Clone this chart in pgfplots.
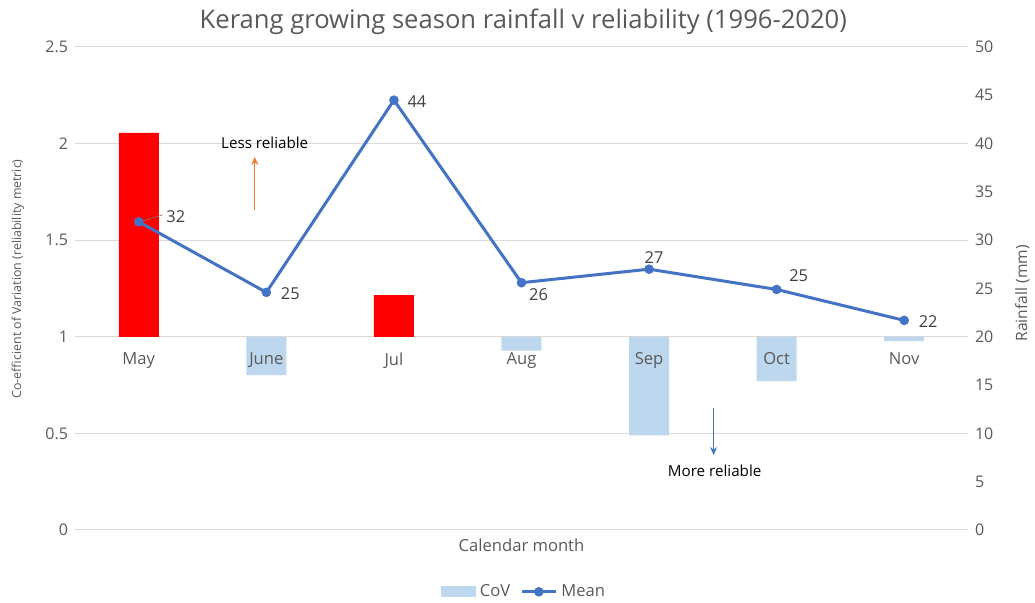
\documentclass[border=0pt]{standalone}
\usepackage{pgfplots}
\pgfplotsset{compat=1.18}
\usetikzlibrary{arrows.meta}
\usepackage{fontspec}
\setmainfont{Open Sans}
\definecolor{covblue}{RGB}{189,215,238}
\definecolor{meanblue}{RGB}{68,114,196}
\definecolor{txtgray}{RGB}{89,89,89}
\definecolor{lblgray}{RGB}{64,64,64}
\definecolor{gridgray}{RGB}{217,217,217}
\definecolor{arrorange}{RGB}{237,125,49}
\pgfplotsset{base/.style={scale only axis, width=446.5pt, height=241.5pt, xmin=-0.5, xmax=6.5,
  axis line style={draw=none}, tick style={draw=none},
  ticklabel style={font=\fontsize{8}{9}\selectfont, text=txtgray},
  /pgf/number format/assume math mode=true}}
\begin{document}
\begin{tikzpicture}
\useasboundingbox (-37.5pt,-36.5pt) rectangle (480pt,265pt);
\begin{axis}[
  base, clip=false,
  ymin=-1, ymax=1.5,
  axis x line*=bottom, axis y line*=left,
  xtick=\empty,
  ytick={-1,-0.5,0,0.5,1,1.5}, yticklabels={0,0.5,1,1.5,2,2.5},
  ymajorgrids, grid style={gridgray, line width=0.5pt},
]
\addplot[ybar, bar width=20pt, bar shift=0pt, fill=red, draw=none, y filter/.expression={y-1}]
  coordinates {(0,2.055) (2,1.216)};
\addplot[ybar, bar width=20pt, bar shift=0pt, fill=covblue, draw=none, y filter/.expression={y-1}]
  coordinates {(1,0.802) (3,0.928) (4,0.490) (5,0.770) (6,0.978)};
\draw[arrorange, line width=0.6pt, -{Stealth[length=4pt,width=3.5pt]}] (axis cs:0.909,0.656) -- (axis cs:0.909,0.931);
\node[font=\fontsize{7.6}{9}\selectfont, text=black] at (axis cs:0.987,1.003) {Less reliable};
\draw[meanblue, line width=0.6pt, -{Stealth[length=4pt,width=3.5pt]}] (axis cs:4.506,-0.369) -- (axis cs:4.506,-0.612);
\node[font=\fontsize{7.6}{9}\selectfont, text=black] at (axis cs:4.514,-0.695) {More reliable};
\node[font=\fontsize{8.3}{9}\selectfont, text=txtgray] at (axis description cs:0.50,-0.031) {Calendar month};
\node[font=\fontsize{12.8}{14}\selectfont, text=txtgray] at (axis description cs:0.502,1.052) {Kerang growing season rainfall v reliability (1996-2020)};
\node[rotate=90, font=\fontsize{6.2}{7}\selectfont, text=txtgray] at (axis description cs:-0.064,0.52) {Co-efficient of Variation (reliability metric)};
\end{axis}
\begin{axis}[
  base,
  ymin=-1, ymax=1.5,
  axis x line*=middle, axis y line=none,
  hide obscured x ticks=false,
  xtick={0,...,6}, xticklabels={May,June,Jul,Aug,Sep,Oct,Nov},
  xticklabel style={yshift=-4.5pt, font=\fontsize{8.3}{9}\selectfont},
]
\end{axis}
\begin{axis}[
  base, clip=false,
  ymin=0, ymax=50,
  axis x line=none, axis y line*=right,
  ytick={0,5,...,50},
  legend style={draw=none, fill=none, at={(axis description cs:0.504,-0.128)}, anchor=center, legend columns=2,
    font=\fontsize{8.3}{9}\selectfont, text=txtgray, /tikz/every even column/.append style={column sep=3pt}},
]
\addlegendimage{legend image code/.code={\fill[covblue] (0pt,-2.5pt) rectangle (17pt,2.5pt);}}
\addlegendentry{CoV}
\addplot[meanblue, line width=1.5pt, mark=*, mark size=1.6pt, mark options={solid}] coordinates {
  (0,31.9) (1,24.6) (2,44.5) (3,25.6) (4,27.0) (5,24.9) (6,21.7)};
\addlegendentry{Mean}
\node[rotate=90, font=\fontsize{7.8}{9}\selectfont, text=txtgray] at (axis description cs:1.061,0.49) {Rainfall (mm)};
\draw[gray, line width=0.3pt] (axis cs:0.02,31.95) -- ([xshift=12pt,yshift=3.5pt]axis cs:0,31.9);
\node[font=\fontsize{8.2}{9}\selectfont, text=lblgray] at ([xshift=18.5pt,yshift=2.5pt]axis cs:0,31.9) {32};
\node[font=\fontsize{8.2}{9}\selectfont, text=lblgray] at ([xshift=12pt,yshift=-0.5pt]axis cs:1,24.6) {25};
\node[font=\fontsize{8.2}{9}\selectfont, text=lblgray] at ([xshift=11.5pt,yshift=-0.5pt]axis cs:2,44.5) {44};
\node[font=\fontsize{8.2}{9}\selectfont, text=lblgray] at ([xshift=8.5pt,yshift=-6pt]axis cs:3,25.6) {26};
\node[font=\fontsize{8.2}{9}\selectfont, text=lblgray] at ([xshift=2.5pt,yshift=6pt]axis cs:4,27.0) {27};
\node[font=\fontsize{8.2}{9}\selectfont, text=lblgray] at ([xshift=11pt,yshift=7pt]axis cs:5,24.9) {25};
\node[font=\fontsize{8.2}{9}\selectfont, text=lblgray] at ([xshift=12pt,yshift=-0.5pt]axis cs:6,21.7) {22};
\end{axis}
\end{tikzpicture}
\end{document}
